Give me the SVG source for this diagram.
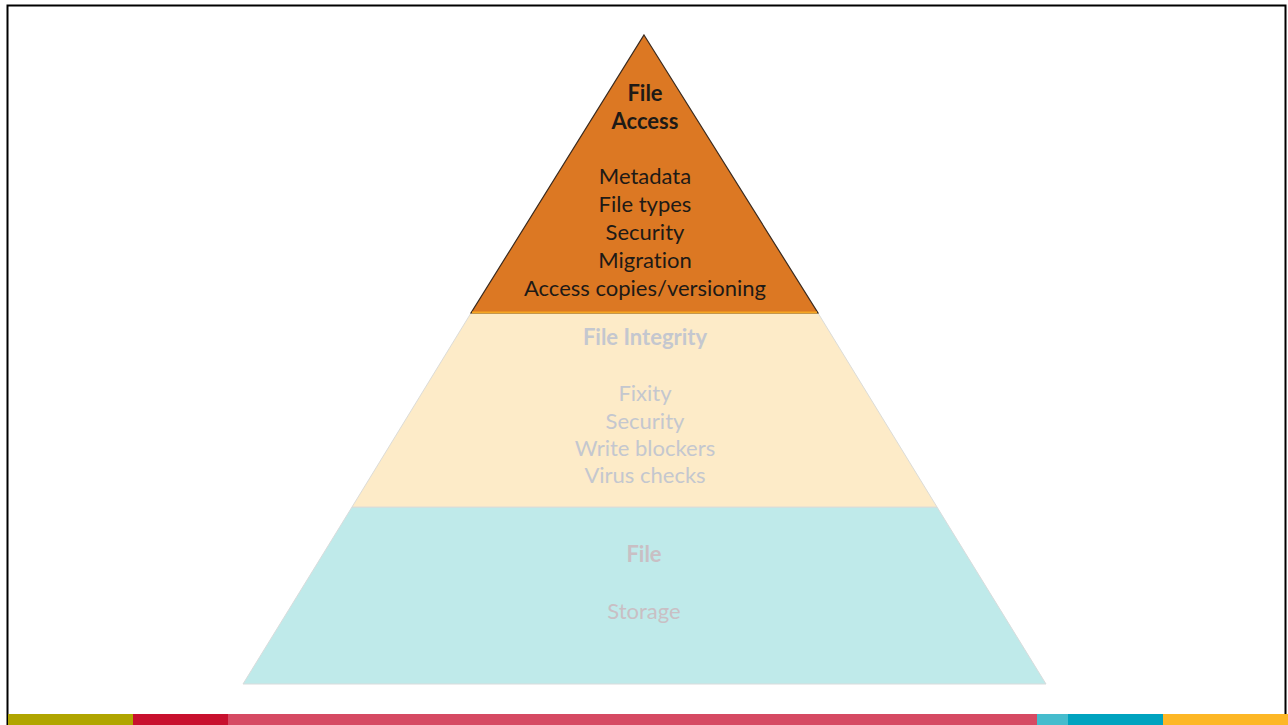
<svg xmlns="http://www.w3.org/2000/svg" width="1288" height="725" viewBox="0 0 1288 725">
  <style>
    .t { font-family: Lato, "Open Sans", "Liberation Sans", sans-serif; font-size: 22px; text-anchor: middle; font-variant-ligatures: none; }
    .b { font-weight: bold; }
    .dark { fill: #1e1a16; }
    .mid { fill: #c4c7cf; }
    .low { fill: #c9bfc4; }
  </style>
  <rect x="0" y="0" width="1288" height="725" fill="#ffffff"/>
  <!-- slide frame -->
  <path d="M7.5 725 V5.5 H1285.5 V725" fill="none" stroke="#000" stroke-width="2"/>

  <!-- base layer: storage -->
  <g id="layer-storage">
    <polygon points="352,507 937,507 1046,684 243,684" fill="#bfeaea" stroke="#d8dcdc" stroke-width="1"/>
    <text class="t b low" x="644" y="562">File</text>
    <text class="t low" x="644" y="619">Storage</text>
  </g>

  <!-- middle layer: integrity -->
  <g id="layer-integrity">
    <polygon points="471,313 818,313 937,507 352,507" fill="#fdebc8" stroke="#dcdcd8" stroke-width="1"/>
    <text class="t b mid" x="645" y="345">File Integrity</text>
    <text class="t mid" x="645" y="401">Fixity</text>
    <text class="t mid" x="645" y="429">Security</text>
    <text class="t mid" x="645" y="456">Write blockers</text>
    <text class="t mid" x="645" y="483">Virus checks</text>
  </g>

  <!-- top layer: access -->
  <g id="layer-access">
    <polygon points="644,35 818,313 471,313" fill="#dc7823" stroke="#3a2a1e" stroke-width="1.2"/>
    <line x1="472" y1="312.5" x2="817" y2="312.5" stroke="#f5a623" stroke-width="2"/>
    <text class="t b dark" x="645" y="101">File</text>
    <text class="t b dark" x="645" y="129">Access</text>
    <text class="t dark" x="645" y="184">Metadata</text>
    <text class="t dark" x="645" y="212">File types</text>
    <text class="t dark" x="645" y="240">Security</text>
    <text class="t dark" x="645" y="268">Migration</text>
    <text class="t dark" x="645" y="296">Access copies/versioning</text>
  </g>

  <!-- footer colour band -->
  <g id="footer-band">
    <rect x="8" y="714" width="125" height="11" fill="#b0a500"/>
    <rect x="133" y="714" width="95" height="11" fill="#c8102e"/>
    <rect x="228" y="714" width="809" height="11" fill="#d64a63"/>
    <rect x="1037" y="714" width="31" height="11" fill="#45bccd"/>
    <rect x="1068" y="714" width="95" height="11" fill="#00a3bf"/>
    <rect x="1163" y="714" width="125" height="11" fill="#fdb726"/>
  </g>
</svg>
